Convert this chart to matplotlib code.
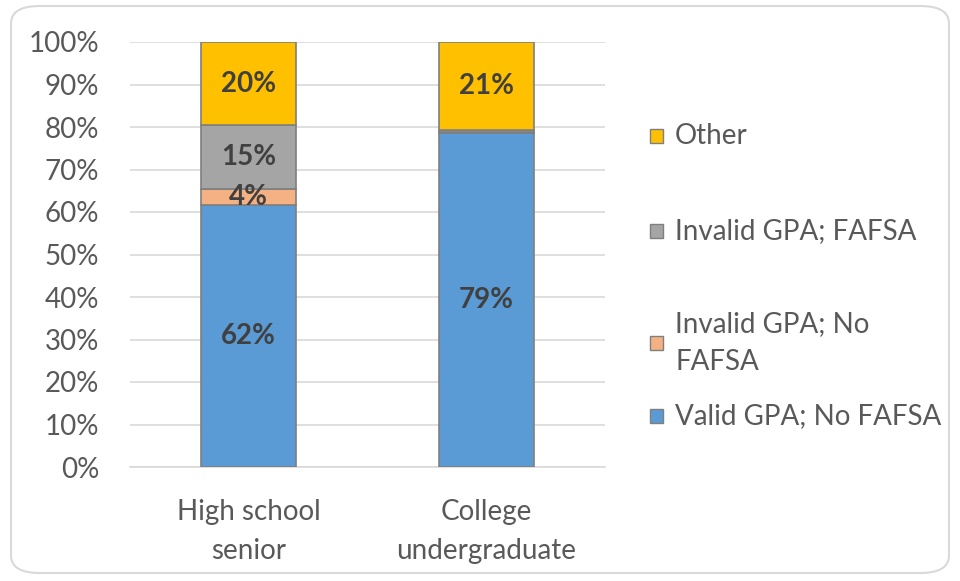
import matplotlib
matplotlib.use("Agg")
import matplotlib.pyplot as plt
from matplotlib.patches import FancyBboxPatch, Rectangle

plt.rcParams['font.family'] = ['Lato', 'DejaVu Sans']

categories = ["High school\nsenior", "College\nundergraduate"]
series_names = ["Valid GPA; No FAFSA", "Invalid GPA; No\nFAFSA",
                "Invalid GPA; FAFSA", "Other"]
valid_no_fafsa = [61.6, 78.6]
invalid_no_fafsa = [3.8, 0.3]
invalid_fafsa = [15.0, 0.5]
other = [19.6, 20.6]
colors = ["#5B9BD5", "#F4B183", "#A5A5A5", "#FFC000"]
y_ticks = list(range(0, 101, 10))

series = [valid_no_fafsa, invalid_no_fafsa, invalid_fafsa, other]

FS = 20

fig = plt.figure(figsize=(9.6, 5.81), dpi=100)
W, H = 960, 581
ax = fig.add_axes([130 / W, 1 - 467 / H, 475 / W, 425 / H])

x = list(range(len(categories)))
bottoms = [0.0] * len(categories)
for vals, col in zip(series, colors):
    ax.bar(x, vals, width=0.4, bottom=bottoms, color=col,
           edgecolor="#7F7F7F", linewidth=1.2, zorder=3)
    for xi, v, b in zip(x, vals, bottoms):
        if v >= 1:
            ax.text(xi, b + v / 2, f"{round(v):.0f}%", ha="center",
                    va="center", fontsize=FS, fontweight="bold",
                    color="#404040", zorder=4)
    bottoms = [b + v for b, v in zip(bottoms, vals)]

ax.set_xlim(-0.5, 1.5)
ax.set_ylim(0, 100)
ax.set_yticks(y_ticks)
ax.set_yticklabels([f"{t}%" for t in y_ticks])
ax.set_xticks(x)
ax.set_xticklabels(categories, linespacing=1.62)
ax.tick_params(axis="both", length=0, labelsize=FS, colors="#595959")
ax.tick_params(axis="y", pad=22)
ax.tick_params(axis="x", pad=23)
ax.grid(axis="y", color="#D9D9D9", linewidth=1.2, zorder=0)
for s in ["left", "right", "top"]:
    ax.spines[s].set_visible(False)
ax.spines["bottom"].set_color("#D9D9D9")
ax.spines["bottom"].set_linewidth(1.2)

# Legend drawn on the figure, top entry first
legend_rows = [(3, 136), (2, 231), (1, 343), (0, 416)]
for idx, yc in legend_rows:
    fig.patches.append(Rectangle((650 / W, 1 - (yc + 7) / H), 13 / W, 14 / H,
                                 transform=fig.transFigure,
                                 facecolor=colors[idx], edgecolor="#7F7F7F",
                                 linewidth=1))
    fig.text(675 / W, 1 - yc / H, series_names[idx], ha="left", va="center",
             fontsize=FS, color="#595959", linespacing=1.6)

# Rounded chart border
fig.patches.append(FancyBboxPatch((11 / W, 8 / H), (W - 22) / W, (H - 14) / H,
                                  boxstyle="round,pad=0,rounding_size=0.03",
                                  transform=fig.transFigure, facecolor="none",
                                  edgecolor="#D9D9D9", linewidth=1.5))

fig.savefig("out.png", dpi=100, facecolor="white")
